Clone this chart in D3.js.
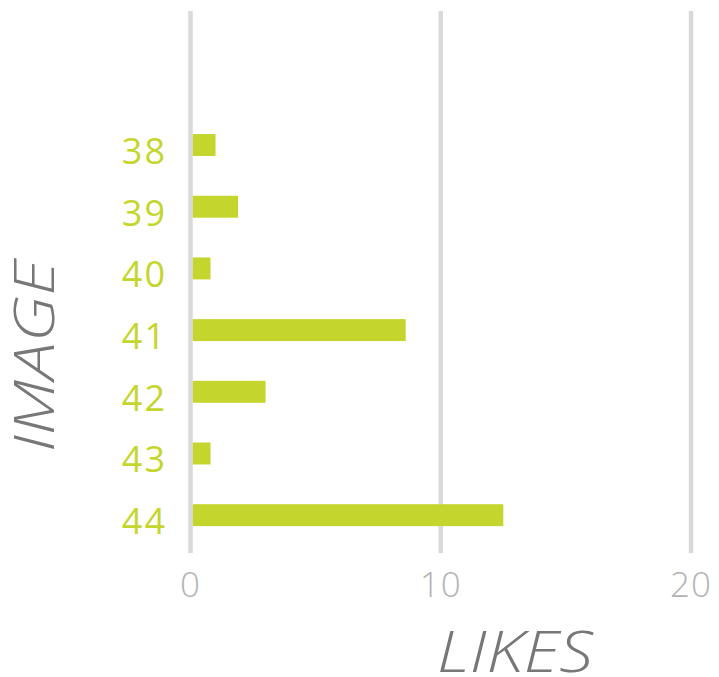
<!DOCTYPE html>
<html><head><meta charset="utf-8">
<script src="https://cdn.jsdelivr.net/npm/d3@7"></script>
<style>html,body{margin:0;padding:0;background:#fff;}svg{display:block;}</style>
</head><body>
<svg id="chart" width="719" height="677"></svg>
<script>
const categories = ["38","39","40","41","42","43","44"];
const likes = [1, 1.9, 0.8, 8.6, 3, 0.8, 12.5];
const xTicks = [0, 10, 20];
const xTitle = "LIKES";
const yTitle = "IMAGE";

const barColor = "#c4d62d";
const gridColor = "#d9d9d9";
const tickColor = "#b3b3b3";
const titleColor = "#777777";
const font = "'Open Sans', sans-serif";

const svg = d3.select("#chart");
const x = d3.scaleLinear().domain([0, 20]).range([190.5, 691]);
const y = d3.scaleBand().domain(categories).range([114.2, 546]).paddingInner(0.644).paddingOuter(0.322);

const gridTop = 11, gridBottom = 553;

// grid lines
svg.append("g").selectAll("line").data(xTicks).join("line")
  .attr("x1", d => x(d)).attr("x2", d => x(d))
  .attr("y1", gridTop).attr("y2", gridBottom)
  .attr("stroke", gridColor).attr("stroke-width", 4.5);

// bars (drawn over grid, starting at the right edge of the zero line)
svg.append("g").selectAll("rect").data(categories).join("rect")
  .attr("x", x(0) + 2.25)
  .attr("y", d => y(d))
  .attr("width", (d, i) => x(likes[i]) - x(0) - 2.25)
  .attr("height", y.bandwidth())
  .attr("fill", barColor);

// x tick labels
svg.append("g").selectAll("text").data(xTicks).join("text")
  .attr("x", d => x(d))
  .attr("y", 597)
  .attr("text-anchor", "middle")
  .attr("font-family", font).attr("font-weight", 300)
  .attr("font-size", 35)
  .attr("letter-spacing", 1)
  .attr("fill", tickColor)
  .text(d => d);

// y tick labels
svg.append("g").selectAll("text").data(categories).join("text")
  .attr("x", 167)
  .attr("y", d => y(d) + y.bandwidth() / 2 + 19)
  .attr("text-anchor", "end")
  .attr("font-family", font).attr("font-weight", 400)
  .attr("font-size", 36)
  .attr("letter-spacing", 2)
  .attr("fill", barColor)
  .text(d => d);

// axis titles
svg.append("text")
  .attr("x", 437).attr("y", 672)
  .attr("text-anchor", "start")
  .attr("font-family", font).attr("font-weight", 300).attr("font-style", "italic")
  .attr("font-size", 57)
  .attr("textLength", 156).attr("lengthAdjust", "spacingAndGlyphs")
  .attr("fill", titleColor)
  .text(xTitle);

svg.append("text")
  .attr("transform", "translate(54,452) rotate(-90)")
  .attr("text-anchor", "start")
  .attr("font-family", font).attr("font-weight", 300).attr("font-style", "italic")
  .attr("font-size", 55)
  .attr("textLength", 192).attr("lengthAdjust", "spacingAndGlyphs")
  .attr("fill", titleColor)
  .text(yTitle);
</script>
</body></html>
